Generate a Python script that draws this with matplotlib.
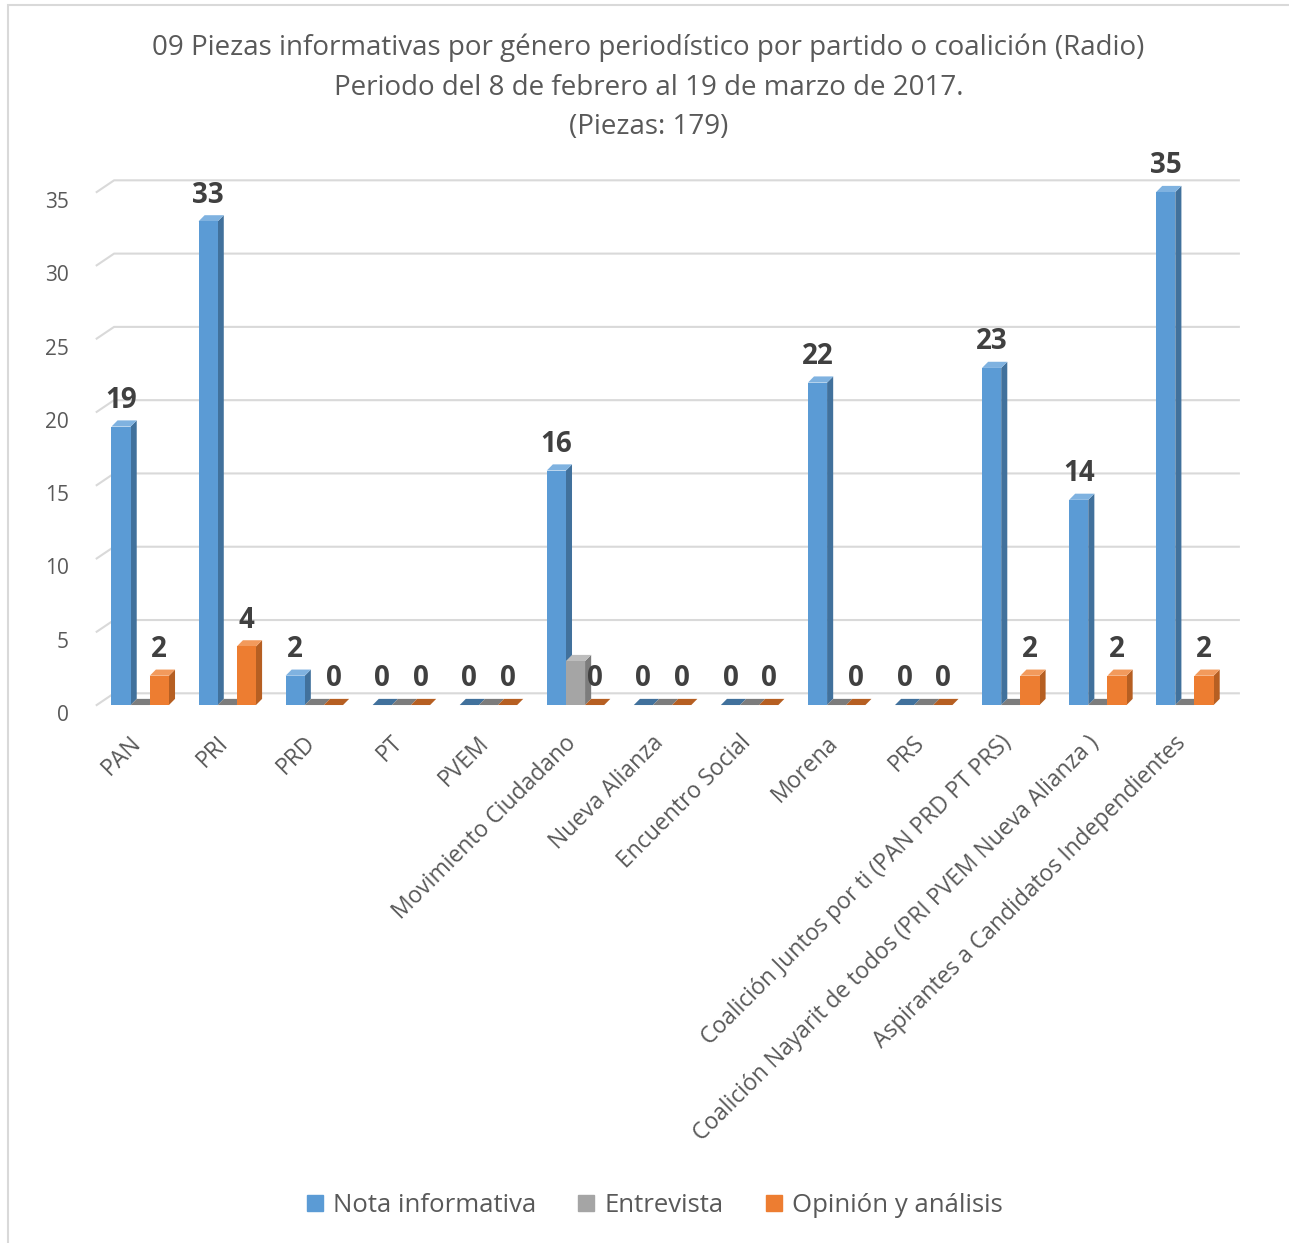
import numpy as np
import matplotlib
matplotlib.use("Agg")
import matplotlib.pyplot as plt
import matplotlib.transforms as mtransforms
from matplotlib.patches import Polygon, Rectangle
from matplotlib.lines import Line2D

plt.rcParams['font.family'] = ['Open Sans', 'DejaVu Sans']

categories = ["PAN", "PRI", "PRD", "PT", "PVEM", "Movimiento Ciudadano",
              "Nueva Alianza", "Encuentro Social", "Morena", "PRS",
              "Coalición Juntos por ti (PAN PRD PT PRS)",
              "Coalición Nayarit de todos (PRI PVEM Nueva Alianza )",
              "Aspirantes a Candidatos Independientes"]
nota = [19, 33, 2, 0, 0, 16, 0, 0, 22, 0, 23, 14, 35]
entrevista = [0, 0, 0, 0, 0, 3, 0, 0, 0, 0, 0, 0, 0]
opinion = [2, 4, 0, 0, 0, 0, 0, 0, 0, 0, 2, 2, 2]

series = [("Nota informativa", nota, "#5B9BD5", "#41719C", "#7FB2E0", True),
          ("Entrevista", entrevista, "#A5A5A5", "#7C7C7C", "#BDBDBD", False),
          ("Opinión y análisis", opinion, "#ED7D31", "#B65F22", "#F29A5C", True)]

fig = plt.figure(figsize=(12.89, 12.43), dpi=100)
ax = fig.add_axes([0.075, 0.4328, 0.878, 0.4127])
ax.set_xlim(-0.5, len(categories) - 0.5)
ax.set_ylim(0, 35)

# bar depth (data units)
ddx, ddy = 0.07, 0.42
width = 0.22
x = np.arange(len(categories))

# back-wall gridlines with slant
gdx, gdy = 0.2, 0.8
for v in range(0, 36, 5):
    ax.plot([-0.5, -0.5 + gdx, 12.62], [v, v + gdy, v + gdy], color="#D9D9D9",
            lw=1.5, clip_on=False, zorder=0)

for i, (name, vals, face, side, top, show) in enumerate(series):
    xs = x + (i - 1) * width
    for xc, h in zip(xs, vals):
        xl, xr = xc - width / 2, xc + width / 2
        ax.add_patch(Polygon([(xr, 0), (xr, h), (xr + ddx, h + ddy), (xr + ddx, ddy)],
                             closed=True, fc=side, ec="none", zorder=2, clip_on=False))
        ax.add_patch(Polygon([(xl, h), (xr, h), (xr + ddx, h + ddy), (xl + ddx, h + ddy)],
                             closed=True, fc=top if h > 0 else side, ec="none",
                             zorder=2, clip_on=False))
    ax.bar(xs, vals, width=width, color=face, zorder=3)
    if show:
        for xc, h in zip(xs, vals):
            ax.annotate(str(h), (xc, h), xytext=(0, 8.5), textcoords="offset points",
                        ha="center", va="bottom", fontsize=20, fontweight="bold",
                        color="#404040", zorder=5)

ax.set_yticks(range(0, 36, 5))
ax.set_xticks(x)
ax.set_xticklabels(categories, rotation=45, ha="right", va="top",
                   rotation_mode="anchor", fontsize=16.5, color="#595959")
ax.tick_params(axis="y", length=0, labelsize=15, labelcolor="#595959", pad=20)
ax.tick_params(axis="x", length=0, pad=10)
shift = mtransforms.ScaledTranslation(-0.11, -0.12, fig.dpi_scale_trans)
for lbl in ax.get_xticklabels():
    lbl.set_transform(lbl.get_transform() + shift)
for lbl in ax.get_yticklabels():
    lbl.set_va("top")
for s in ax.spines.values():
    s.set_visible(False)

fig.text(0.503, 0.973, "09 Piezas informativas por género periodístico por partido o coalición (Radio)\n"
         "Periodo del 8 de febrero al 19 de marzo de 2017.\n(Piezas: 179)",
         ha="center", va="top", fontsize=20, color="#595959", linespacing=1.55)

handles = [Line2D([], [], marker="s", ls="none", markersize=11, color=c)
           for _, _, c, _, _, _ in series]
fig.legend(handles, [s[0] for s in series], loc="center", bbox_to_anchor=(0.506, 0.03),
           ncol=3, frameon=False, fontsize=18.5, labelcolor="#595959",
           handlelength=1.0, handletextpad=0.2, columnspacing=1.45)

fig.add_artist(Rectangle((0.006, -0.01), 1.0, 1.006, transform=fig.transFigure,
                         fill=False, ec="#D9D9D9", lw=1.5))

fig.savefig("out.png", dpi=100)
